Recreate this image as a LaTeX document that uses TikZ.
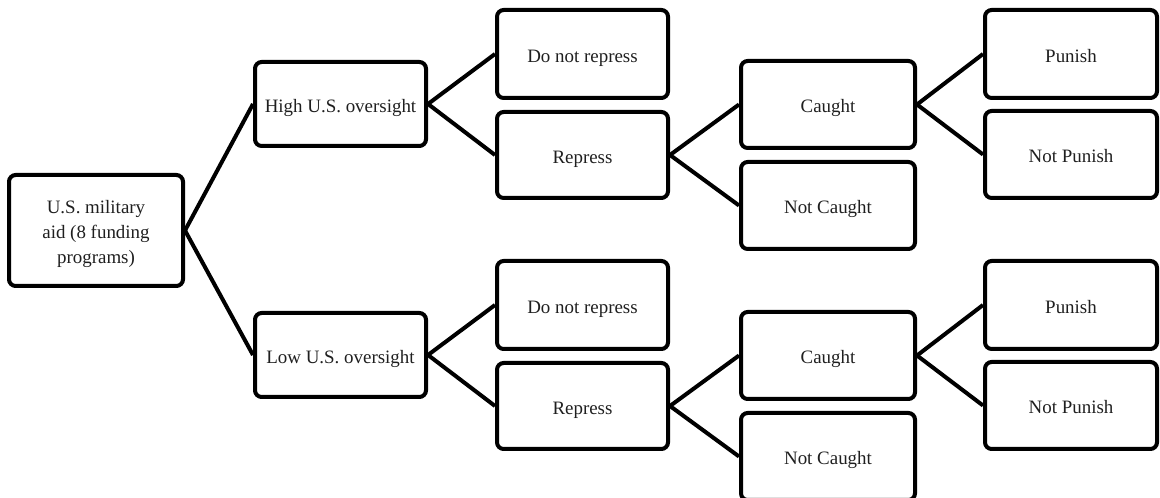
\documentclass[tikz,border=0pt]{standalone}
\usepackage{fontspec}
\setmainfont{Liberation Serif}
\newcommand{\bt}[1]{\raisebox{-2.5pt}[\height][\depth]{\begin{tabular}{@{}c@{}}#1\end{tabular}}}
\begin{document}
\begin{tikzpicture}[x=0.75pt,y=-0.75pt,
  box/.style={draw=black, line width=3pt, rounded corners=5pt, inner sep=0pt,
    minimum width=#1*0.75pt, align=center, font=\fontsize{14.2}{18.8}\selectfont, text=black!88},
  box/.default=172,
  link/.style={line width=3pt, black}]
\useasboundingbox (0,0) rectangle (1160,498);
% root
\node[box=174, minimum height=111*0.75pt] (root) at (96,230.5) {\bt{U.S. military\\aid (8 funding\\programs)}};
% upper branch
\node[box=171, minimum height=84*0.75pt] (high) at (340.5,104) {\bt{High U.S. oversight}};
\node[box=171, minimum height=88*0.75pt] (dnr1) at (582.5,54) {\bt{Do not repress}};
\node[box=171, minimum height=86*0.75pt] (rep1) at (582.5,155) {\bt{Repress}};
\node[box=174, minimum height=87*0.75pt] (cau1) at (828,104.5) {\bt{Caught}};
\node[box=174, minimum height=87*0.75pt] (nca1) at (828,205.5) {\bt{Not Caught}};
\node[box=172, minimum height=88*0.75pt] (pun1) at (1071,54) {\bt{Punish}};
\node[box=172, minimum height=87*0.75pt] (npu1) at (1071,154.5) {\bt{Not Punish}};
% lower branch
\node[box=171, minimum height=84*0.75pt] (low) at (340.5,355) {\bt{Low U.S. oversight}};
\node[box=171, minimum height=88*0.75pt] (dnr2) at (582.5,305) {\bt{Do not repress}};
\node[box=171, minimum height=86*0.75pt] (rep2) at (582.5,406) {\bt{Repress}};
\node[box=174, minimum height=87*0.75pt] (cau2) at (828,355.5) {\bt{Caught}};
\node[box=174, minimum height=87*0.75pt] (nca2) at (828,456.5) {\bt{Not Caught}};
\node[box=172, minimum height=88*0.75pt] (pun2) at (1071,305) {\bt{Punish}};
\node[box=172, minimum height=87*0.75pt] (npu2) at (1071,405.5) {\bt{Not Punish}};
% connectors
\draw[link] (root.east) -- (high.west);
\draw[link] (root.east) -- (low.west);
\draw[link] (high.east) -- (dnr1.west);
\draw[link] (high.east) -- (rep1.west);
\draw[link] (rep1.east) -- (cau1.west);
\draw[link] (rep1.east) -- (nca1.west);
\draw[link] (cau1.east) -- (pun1.west);
\draw[link] (cau1.east) -- (npu1.west);
\draw[link] (low.east) -- (dnr2.west);
\draw[link] (low.east) -- (rep2.west);
\draw[link] (rep2.east) -- (cau2.west);
\draw[link] (rep2.east) -- (nca2.west);
\draw[link] (cau2.east) -- (pun2.west);
\draw[link] (cau2.east) -- (npu2.west);
\end{tikzpicture}
\end{document}
